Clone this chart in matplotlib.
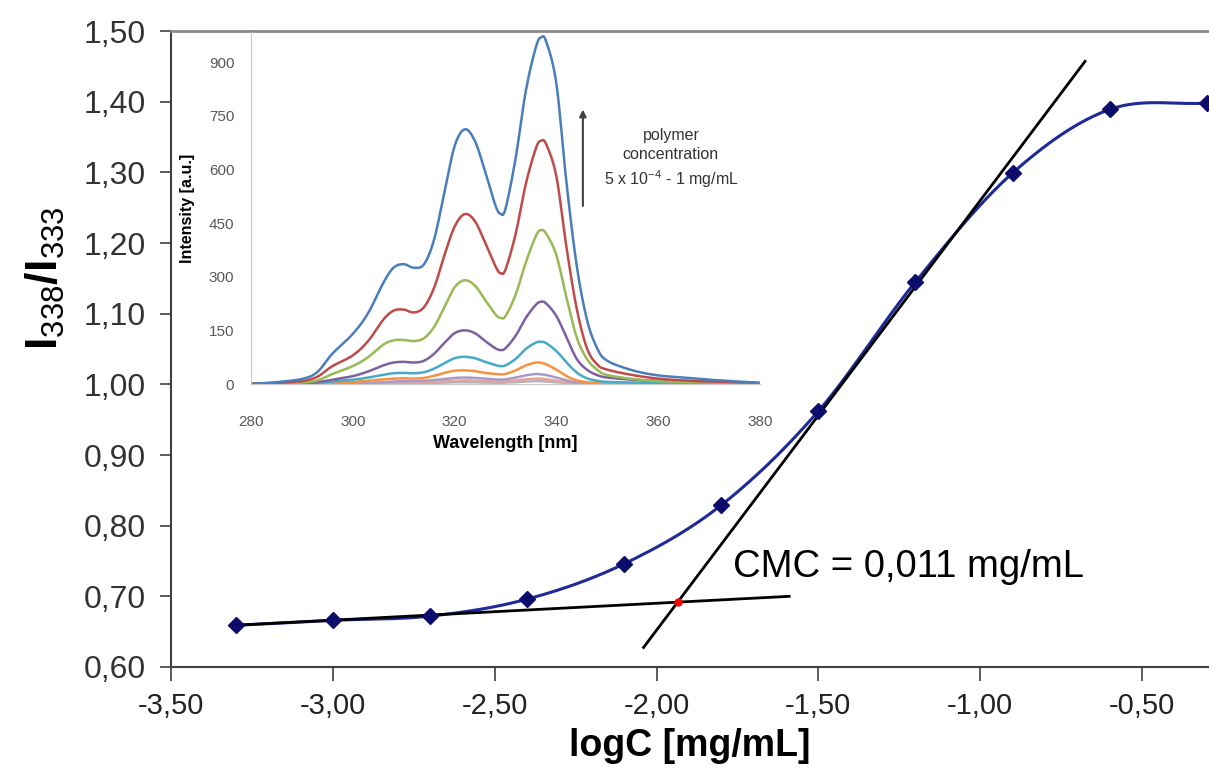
import numpy as np
import matplotlib
matplotlib.use('Agg')
import matplotlib.pyplot as plt

plt.rcParams['font.family'] = ['Liberation Sans', 'DejaVu Sans']
plt.rcParams['mathtext.fontset'] = 'custom'
plt.rcParams['mathtext.rm'] = 'Liberation Sans'
plt.rcParams['mathtext.bf'] = 'Liberation Sans:bold'
plt.rcParams['mathtext.default'] = 'rm'

# main data: I338/I333 ratio vs log concentration
logc = [-3.3, -3.0, -2.7, -2.4, -2.1, -1.8, -1.5, -1.2, -0.9, -0.6, -0.3]
ratio = [0.659, 0.666, 0.672, 0.696, 0.746, 0.829, 0.962, 1.145, 1.299, 1.389, 1.398]

# tangent fits (slope, intercept, x range)
low_fit = (0.0239, 0.738, -3.3, -1.59)
high_fit = (0.608, 1.868, -2.04, -0.676)

xticks = [-3.5, -3.0, -2.5, -2.0, -1.5, -1.0, -0.5]
yticks = [0.6, 0.7, 0.8, 0.9, 1.0, 1.1, 1.2, 1.3, 1.4, 1.5]

# inset: emission spectra
wl = [280, 285, 290, 293, 296, 300, 303, 306, 308, 310, 312, 314, 316, 318, 320, 322, 324, 326, 328,
      329, 330, 332, 334, 336, 337, 338, 340, 342, 344, 346, 348, 350, 355, 360, 365, 370, 375, 380]
s_blue = [0, 5, 14, 33, 85, 140, 198, 283, 325, 335, 325, 335, 405, 537, 665, 712, 679, 594, 500,
          476, 490, 632, 820, 943, 969, 957, 839, 560, 330, 180, 100, 65, 38, 24, 18, 12, 8, 3]
s_red = [0, 3, 8, 20, 50, 80, 120, 180, 205, 208, 200, 215, 270, 360, 440, 475, 455, 395, 330,
         310, 320, 420, 560, 660, 680, 670, 580, 380, 210, 100, 55, 40, 25, 15, 10, 7, 5, 3]
s_green = [0, 2, 4, 10, 28, 50, 75, 110, 122, 123, 120, 128, 160, 215, 270, 290, 275, 235, 195,
           185, 190, 250, 340, 415, 430, 420, 360, 240, 130, 70, 40, 25, 14, 8, 6, 4, 3, 2]
s_purple = [0, 1, 2, 5, 12, 22, 35, 52, 60, 62, 60, 65, 85, 115, 142, 150, 142, 120, 100,
            95, 100, 135, 185, 222, 230, 225, 190, 130, 70, 40, 25, 18, 12, 9, 7, 6, 4, 2]
s_cyan = [0, 0, 1, 3, 7, 12, 18, 26, 30, 31, 30, 33, 43, 58, 72, 76, 72, 62, 53,
          50, 52, 70, 98, 116, 118, 114, 92, 60, 32, 16, 9, 6, 4, 3, 2, 2, 1, 1]
s_orange = [0, 0, 0, 1, 3, 6, 9, 13, 15, 16, 15, 17, 23, 31, 37, 38, 36, 31, 28,
            27, 28, 38, 52, 60, 59, 55, 40, 22, 10, 5, 3, 2, 1, 1, 0, 0, 0, 0]
s_lav = [0, 0, 0, 0, 1, 2, 3, 5, 7, 8, 8, 9, 11, 14, 17, 18, 17, 15, 13,
         12, 13, 18, 24, 28, 27, 25, 18, 10, 4, 2, 1, 0, 0, 0, 0, 0, 0, 0]
s_pink = [0, 0, 0, 0, 0, 1, 2, 3, 4, 4, 4, 5, 6, 8, 9, 10, 9, 8, 7,
          7, 7, 10, 13, 15, 15, 13, 9, 5, 2, 1, 0, 0, 0, 0, 0, 0, 0, 0]
s_gray = [0, 0, 0, 0, 0, 0, 1, 1, 2, 2, 2, 2, 3, 4, 5, 5, 5, 4, 4,
          3, 4, 5, 7, 8, 8, 7, 5, 3, 1, 0, 0, 0, 0, 0, 0, 0, 0, 0]
spectra = [s_gray, s_pink, s_lav, s_orange, s_cyan, s_purple, s_green, s_red, s_blue]
spec_colors = ['#B4B4B4', '#E3A3A1', '#A99BC8', '#F69240', '#46AAC5', '#7D60A0', '#98B954', '#BE4B48', '#4A7EBB']


def smooth(xs, ys, n=16):
    # catmull-rom, like excel's smoothed line
    xs = np.asarray(xs, float)
    ys = np.asarray(ys, float)
    px = np.concatenate([[2 * xs[0] - xs[1]], xs, [2 * xs[-1] - xs[-2]]])
    py = np.concatenate([[2 * ys[0] - ys[1]], ys, [2 * ys[-1] - ys[-2]]])
    t = np.linspace(0, 1, n, endpoint=False)
    ox, oy = [], []
    for i in range(1, len(px) - 2):
        for p, o in ((px, ox), (py, oy)):
            p0, p1, p2, p3 = p[i - 1], p[i], p[i + 1], p[i + 2]
            o.extend(0.5 * (2 * p1 + (-p0 + p2) * t + (2 * p0 - 5 * p1 + 4 * p2 - p3) * t ** 2
                            + (-p0 + 3 * p1 - 3 * p2 + p3) * t ** 3))
    ox.append(xs[-1])
    oy.append(ys[-1])
    return np.array(ox), np.array(oy)


fig = plt.figure(figsize=(12.09, 7.76), dpi=100)
ax = fig.add_axes([171 / 1209, 1 - 667 / 776, 1 - 171 / 1209, (667 - 31) / 776])

cx, cy = smooth(logc, ratio, 30)
ax.plot(cx, cy, color='#1E2A96', lw=2.2, zorder=2)

for slope, icpt, x0, x1 in (low_fit, high_fit):
    xx = np.array([x0, x1])
    ax.plot(xx, slope * xx + icpt, color='black', lw=2, zorder=3)

ax.plot(logc, ratio, ls='none', marker='D', ms=8.5, color='#0C0C6A', zorder=4, clip_on=False)

# intersection -> CMC
xc = (low_fit[1] - high_fit[1]) / (high_fit[0] - low_fit[0])
yc = low_fit[0] * xc + low_fit[1]
ax.plot([xc], [yc], 'o', color='red', ms=5, zorder=5)
ax.text(-1.765, 0.742, 'CMC = 0,011 mg/mL', fontsize=27.5, va='center', ha='left')

ax.set_xlim(-3.5, -0.293)
ax.set_ylim(0.6, 1.5)
ax.set_xticks(xticks)
ax.set_xticklabels([('%.2f' % v).replace('.', ',') for v in xticks], fontsize=21)
ax.set_yticks(yticks)
ax.set_yticklabels([('%.2f' % v).replace('.', ',') for v in yticks], fontsize=23, color='#333333')
ax.tick_params(axis='x', direction='out', length=10, width=1.2, color='#404040', pad=8, colors='#222222')
ax.tick_params(axis='y', direction='out', length=8, width=1.2, color='#404040', pad=10)
for s in ('left', 'bottom'):
    ax.spines[s].set_color('#404040')
    ax.spines[s].set_linewidth(1.5)
ax.spines['top'].set_color('#8A8A8A')
ax.spines['top'].set_linewidth(2)
ax.spines['right'].set_visible(False)

ax.set_xlabel('logC [mg/mL]', fontsize=27, fontweight='bold', labelpad=6)
fig.text(45 / 1209, 1 - 278 / 776, r'I$_{338}$/I$_{333}$', rotation=90,
         fontsize=32, fontweight='bold', ha='center', va='center')

# inset
ins = fig.add_axes([251 / 1209, 1 - 384 / 776, 509 / 1209, (384 - 32) / 776])
ins.patch.set_alpha(0)
for sp, c in zip(spectra, spec_colors):
    sx, sy = smooth(wl, sp, 8)
    ins.plot(sx, sy, color=c, lw=1.8)
ins.set_xlim(280, 380)
ins.set_ylim(0, 984)
ins.set_xticks([280, 300, 320, 340, 360, 380])
ins.set_yticks([0, 150, 300, 450, 600, 750, 900])
ins.tick_params(length=0, labelsize=11, labelcolor='#595959')
ins.tick_params(axis='x', pad=22)
ins.tick_params(axis='y', pad=12)
for s in ('top', 'right'):
    ins.spines[s].set_visible(False)
for s in ('left', 'bottom'):
    ins.spines[s].set_color('#C8C8C8')
ins.set_xlabel('Wavelength [nm]', fontsize=13, fontweight='bold', labelpad=5)
ins.set_ylabel('Intensity [a.u.]', fontsize=11.5, fontweight='bold', labelpad=10)
ins.annotate('', xy=(345.2, 775), xytext=(345.2, 490),
             arrowprops=dict(arrowstyle='-|>', color='#404040', lw=1.5, mutation_scale=10))
ins.text(362.5, 630, 'polymer\nconcentration\n5 x 10$^{-4}$ - 1 mg/mL', ha='center', va='center',
         fontsize=11.5, color='#333333', linespacing=1.35)

fig.savefig('out.png', dpi=100)
